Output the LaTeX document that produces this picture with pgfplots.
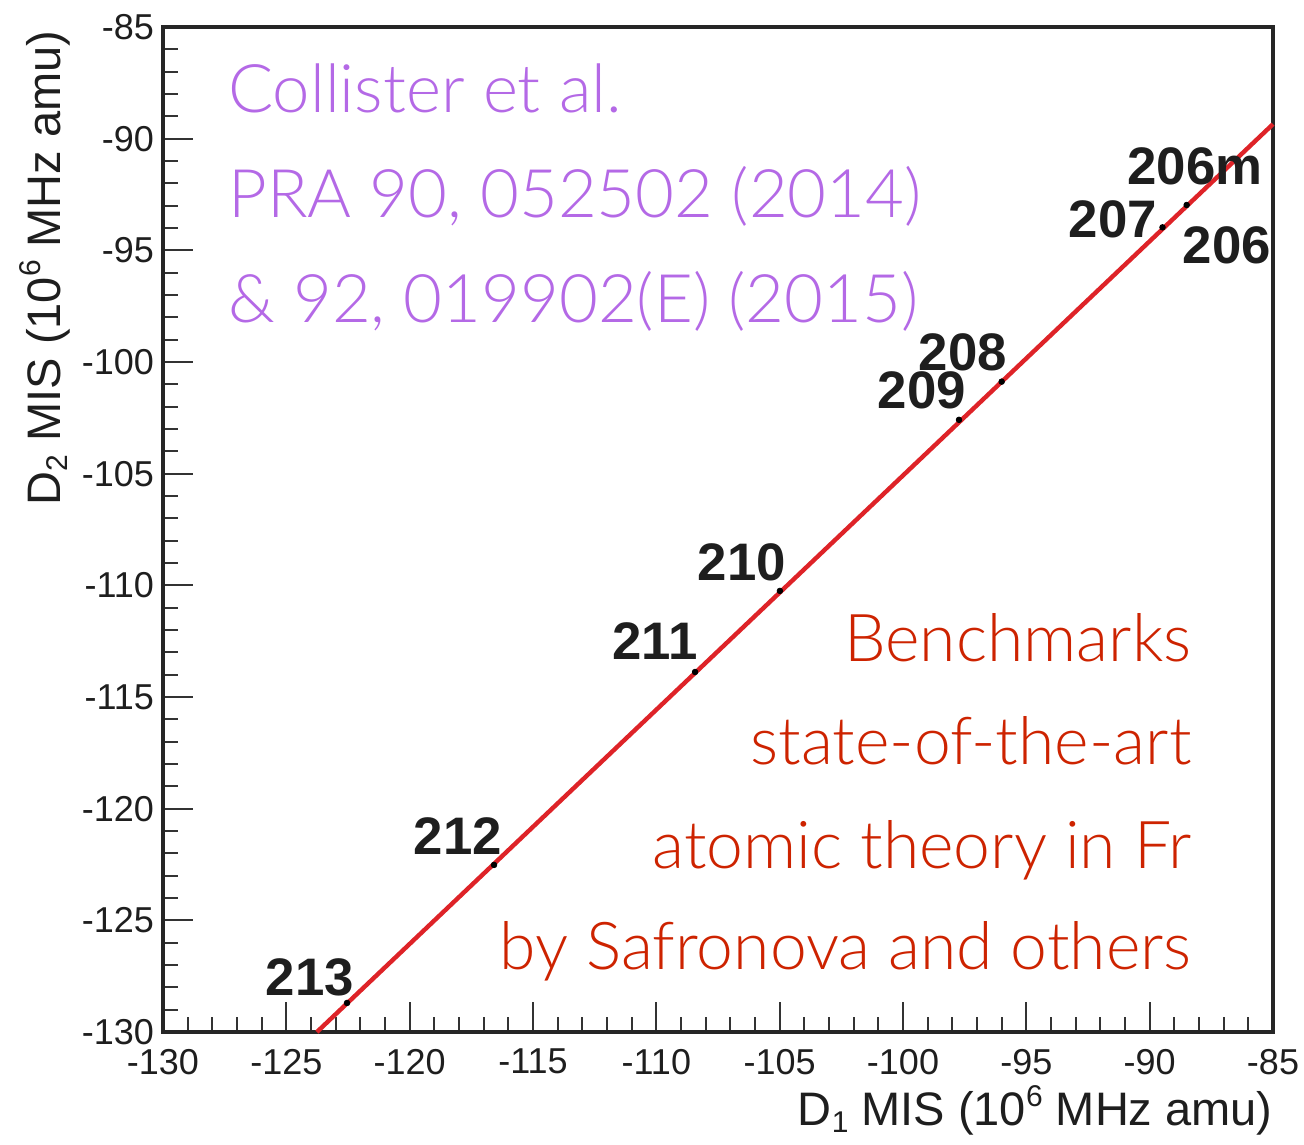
\documentclass[border=0pt]{standalone}
\usepackage{fontspec}
\setmainfont{Liberation Sans}
\newfontfamily\lightfont{Lato Light}
\usepackage{pgfplots}
\pgfplotsset{compat=1.18}
\definecolor{purp}{RGB}{180,105,230}
\definecolor{redtxt}{RGB}{205,35,0}
\definecolor{fitred}{RGB}{222,35,40}
\definecolor{lbl}{RGB}{30,30,30}
\begin{document}
\begin{tikzpicture}
\path[use as bounding box] (0,0) rectangle (652pt,572pt);
\begin{axis}[
  at={(81.5pt,56pt)}, anchor=south west,
  scale only axis, width=555pt, height=502.5pt,
  xmin=-130, xmax=-85, ymin=-130, ymax=-85,
  xtick={-130,-125,-120,-115,-110,-105,-100,-95,-90,-85},
  ytick={-130,-125,-120,-115,-110,-105,-100,-95,-90,-85},
  xticklabels={-130,-125,-120,-115,-110,-105,-100,-95,-90,-85},
  yticklabels={-130,-125,-120,-115,-110,-105,-100,-95,-90,-85},
  minor tick num=4,
  tick align=inside, xtick pos=bottom, ytick pos=left,
  major tick length=15pt, minor tick length=7.5pt,
  axis line style={line width=1.6pt, black!85},
  tick style={line width=1pt, black!80},
  ticklabel style={font=\fontsize{18}{18}\selectfont, text=lbl},
  xticklabel style={yshift=-5pt},
  yticklabel style={xshift=-1pt},
  clip=false,
  xlabel={D\raisebox{-0.15em}{\fontsize{15}{15}\selectfont 1} MIS (10\raisebox{0.42em}{\fontsize{15}{15}\selectfont 6} MHz amu)},
  ylabel={D\raisebox{-0.15em}{\fontsize{15}{15}\selectfont 2} MIS (10\raisebox{0.42em}{\fontsize{15}{15}\selectfont 6} MHz amu)},
  xlabel style={at={(axis description cs:1,-0.078)}, anchor=east, font=\fontsize{23.5}{23.5}\selectfont, text=lbl, inner sep=0pt},
  ylabel style={at={(axis description cs:-0.1063,0.997)}, anchor=east, font=\fontsize{23.5}{23.5}\selectfont, text=lbl, inner sep=0pt},
]
\addplot[fitred, line width=2.2pt] coordinates {(-123.76,-130) (-85,-89.35)};
\addplot[only marks, mark=*, mark size=1.4pt, black] coordinates {
  (-122.54,-128.70) (-116.58,-122.52) (-108.43,-113.88) (-104.99,-110.25)
  (-97.73,-102.59) (-96.00,-100.88) (-89.48,-93.97) (-88.50,-92.97)
};
\begin{scope}[every node/.style={font=\bfseries\fontsize{26.4}{26.4}\selectfont, text=lbl, inner sep=0pt}]
\node at (axis cs:-124.04,-127.54) {213};
\node at (axis cs:-118.04,-121.22) {212};
\node at (axis cs:-110.06,-112.49) {211};
\node at (axis cs:-106.53,-108.95) {210};
\node at (axis cs:-99.23,-101.29) {209};
\node at (axis cs:-97.57,-99.55) {208};
\node at (axis cs:-91.49,-93.59) {207};
\node at (axis cs:-88.17,-91.22) {206m};
\node at (axis cs:-86.87,-94.76) {206};
\end{scope}
\begin{scope}[every node/.style={font=\lightfont\fontsize{33.5}{33.5}\selectfont, text=purp, inner sep=0pt, anchor=base west}]
\node at (axis cs:-127.37,-88.85) {Collister et al.};
\node at (axis cs:-127.37,-93.55) {PRA 90, 052502 (2014)};
\node at (axis cs:-127.37,-98.25) {\& 92, 019902(E) (2015)};
\end{scope}
\begin{scope}[every node/.style={font=\lightfont\fontsize{33}{33}\selectfont, text=redtxt, inner sep=0pt, anchor=base east}]
\node at (axis cs:-88.29,-113.43) {Benchmarks};
\node at (axis cs:-88.29,-118.04) {state-of-the-art};
\node at (axis cs:-88.29,-122.66) {atomic theory in Fr};
\node at (axis cs:-88.29,-127.22) {by Safronova and others};
\end{scope}
\end{axis}
\end{tikzpicture}
\end{document}
